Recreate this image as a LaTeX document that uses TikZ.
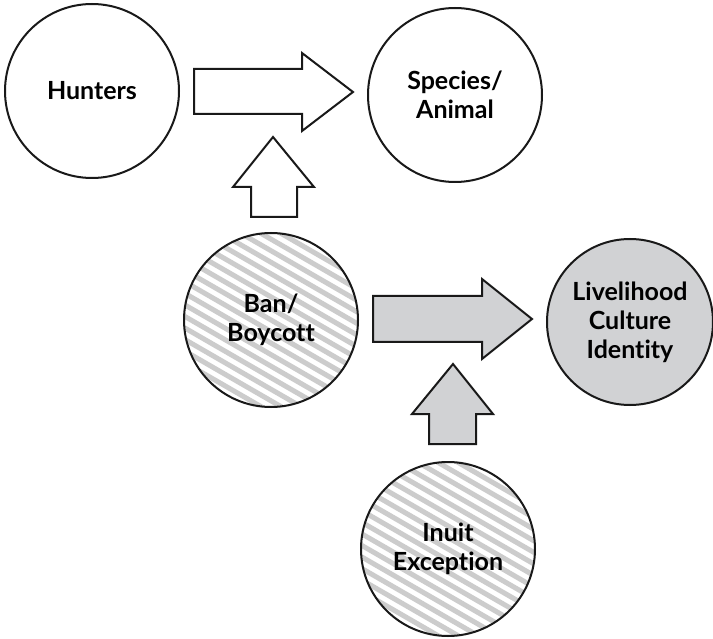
\documentclass[tikz,border=0pt]{standalone}
\usepackage{fontspec}
\setmainfont{Lato}[Ligatures=NoCommon]
\usetikzlibrary{calc}
\definecolor{shade}{HTML}{D1D2D4}
\definecolor{stripe}{HTML}{CCCCCC}
\tikzset{
  bubble/.style={circle, draw=black!90, line width=2pt, fill=white, inner sep=0pt,
    minimum size=#1, align=center,
    font=\fontsize{25}{29}\selectfont\bfseries},
  bubble/.default=174pt,
  hatched/.style={path picture={
    \foreach \k in {-11,...,11}
      \draw[stripe, line width=5pt]
        ($(path picture bounding box.center)+(\k*5pt,\k*8.66pt)+(-110pt,63.5pt)$) -- ++(220pt,-127pt);
  }},
  blockarrow/.style={draw=black!90, line width=2pt, line join=miter, fill=#1},
  blockarrow/.default=white
}
\begin{document}
\begin{tikzpicture}[x=1pt, y=-1pt]
\useasboundingbox (0,0) rectangle (713,639);
% circles
\node[bubble] (hunters) at (92,91) {Hunters};
\node[bubble] (species) at (455,95) {Species/\\Animal};
\node[bubble, hatched] (ban) at (271,320) {Ban/\\Boycott};
\node[bubble=166pt, fill=shade] (life) at (630,322) {Livelihood\\Culture\\Identity};
\node[bubble, hatched] (inuit) at (448,549) {Inuit\\Exception};
% block arrows
\draw[blockarrow] (194,69) -- (302,69) -- (302,53) -- (353,92) -- (302,131) -- (302,114) -- (194,114) -- cycle;
\draw[blockarrow] (251,217) -- (251,187) -- (233,187) -- (273,137) -- (314,187) -- (297,187) -- (297,217) -- cycle;
\draw[blockarrow=shade] (373,296) -- (482,296) -- (482,279) -- (532,319) -- (482,359) -- (482,342) -- (373,342) -- cycle;
\draw[blockarrow=shade] (429,444) -- (429,414) -- (412,414) -- (453,364) -- (493,414) -- (476,414) -- (476,444) -- cycle;
\end{tikzpicture}
\end{document}
